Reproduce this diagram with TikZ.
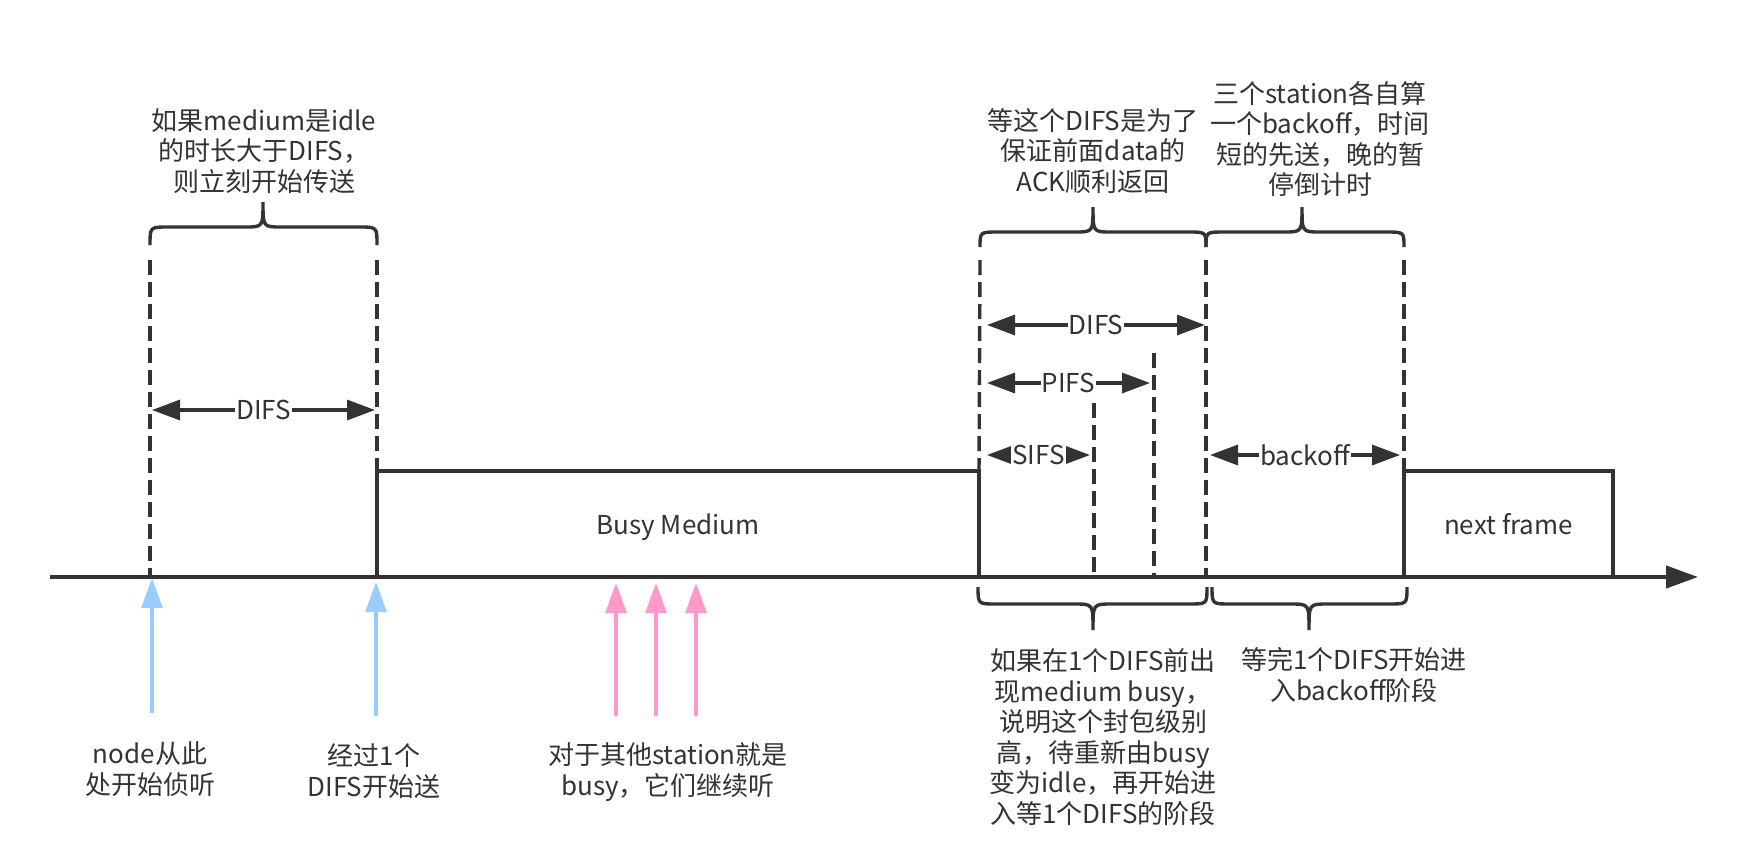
\documentclass[tikz,border=0pt]{standalone}
\usepackage{fontspec}
\setmainfont{Noto Sans CJK SC}
\usetikzlibrary{positioning,arrows.meta}
\definecolor{shen}{HTML}{333333}
\definecolor{lan}{HTML}{99CCFF}
\definecolor{fen}{HTML}{FF99CC}
%% 大括号: 左x, 右x, 尖x, 端y, 横y, 尖y
\newcommand{\kuohao}[6]{%
	\draw[kh] (#1,#4) .. controls (#1,#5) .. (#1+18,#5) -- (#3-18,#5)
	.. controls (#3,#5) .. (#3,#6) .. controls (#3,#5) .. (#3+18,#5)
	-- (#2-18,#5) .. controls (#2,#5) .. (#2,#4);}

\begin{document}
\begin{tikzpicture}[x=0.5pt,y=-0.5pt,
	zhou/.style={draw=shen,line width=2.1pt,-{Triangle[length=16pt,width=11pt]}},
	zhen/.style={draw=shen,line width=1.7pt,outer sep=0pt,text=shen,text depth=0pt,font=\fontsize{13}{15.25}\selectfont},
	xuxian/.style={draw=shen,line width=1.7pt,dash pattern=on 7.5pt off 3.5pt},
	celiang/.style={draw=shen,line width=1.6pt,{Triangle[length=14pt,width=10pt]}-{Triangle[length=14pt,width=10pt]}},
	biaoqian/.style={fill=white,inner sep=0.5pt,text=shen,font=\fontsize{13}{15.25}\selectfont},
	kh/.style={draw=shen,line width=1.7pt},
	lanjian/.style={draw=lan,line width=1.6pt,-{Triangle[length=15pt,width=10.5pt]}},
	fenjian/.style={draw=fen,line width=1.6pt,-{Triangle[length=15pt,width=10.5pt]}},
	shuoming/.style={align=center,text=shen,font=\fontsize{13}{15.25}\selectfont},
	]
	\useasboundingbox (0,0) rectangle (1748,862);
	%% 时间轴
	\coordinate (o) at (50,577);
	\coordinate (e) at (1698,577);
	\coordinate (t1) at (150,577);
	\coordinate (t4) at (1094,577);
	\coordinate (t5) at (1154,577);
	\coordinate (t6) at (1206,577);
	%% 帧
	\node[zhen,minimum width=301pt,minimum height=53pt] (busy) at (678,524) {Busy Medium};
	\node[zhen,minimum width=104.5pt,minimum height=53pt] (next) at (1508.5,524) {next frame};
	\draw[zhou] (o) -- (e);
	%% 虚线
	\coordinate (x1) at (150,260);
	\coordinate (x2) at (377,260);
	\coordinate (x3) at (980,260);
	\coordinate (x4) at (1094,403);
	\coordinate (x5) at (1154,353);
	\coordinate (x6) at (1206,260);
	\coordinate (x7) at (1404,260);
	\draw[xuxian] (x1) -- (t1);
	\draw[xuxian] (x2) -- (busy.north west);
	\draw[xuxian] (x3) -- (busy.north east);
	\draw[xuxian] (x4) -- (t4);
	\draw[xuxian] (x5) -- (t5);
	\draw[xuxian] (x6) -- (t6);
	\draw[xuxian] (x7) -- (next.north west);
	%% 间隔
	\coordinate (a1) at (152,410);
	\coordinate (a2) at (375,410);
	\coordinate (b1) at (987,325);
	\coordinate (b2) at (1205,325);
	\coordinate (c1) at (987,383);
	\coordinate (c2) at (1150,383);
	\coordinate (s1) at (987,455);
	\coordinate (s2) at (1090,455);
	\coordinate (k1) at (1210,455);
	\coordinate (k2) at (1400,455);
	\draw[celiang] (a1) -- node[biaoqian] {DIFS} (a2);
	\draw[celiang] (b1) -- node[biaoqian] {DIFS} (b2);
	\draw[celiang] (c1) -- node[biaoqian] {PIFS} (c2);
	\draw[celiang] (s1) -- node[biaoqian] {SIFS} (s2);
	\draw[celiang] (k1) -- node[biaoqian] {backoff} (k2);
	%% 括号
	\kuohao{150}{377}{263}{245}{227}{202}
	\kuohao{980}{1206}{1093}{247}{232}{207}
	\kuohao{1206}{1404}{1302}{247}{232}{207}
	\kuohao{978}{1207}{1093}{587}{604}{630}
	\kuohao{1212}{1407}{1309}{587}{604}{630}
	%% 说明文字
	\node[shuoming] (m1) at (264,151) {如果medium是idle\\的时长大于DIFS，\\则立刻开始传送};
	\node[shuoming] (m2) at (1093,151) {等这个DIFS是为了\\保证前面data的\\ACK顺利返回};
	\node[shuoming] (m3) at (1320,139) {三个station各自算\\一个backoff，时间\\短的先送，晚的暂\\停倒计时};
	\node[shuoming] (m4) at (1103,737) {如果在1个DIFS前出\\现medium busy，\\说明这个封包级别\\高，待重新由busy\\变为idle，再开始进\\入等1个DIFS的阶段};
	\node[shuoming] (m5) at (1354,675) {等完1个DIFS开始进\\入backoff阶段};
	\node[shuoming] (m6) at (150,769) {node从此\\处开始侦听};
	\node[shuoming] (m7) at (374,771) {经过1个\\DIFS开始送};
	\node[shuoming] (m8) at (668,772) {对于其他station就是\\busy，它们继续听};
	%% 箭头
	\coordinate (l1) at (152,713);
	\coordinate (l1t) at (152,578);
	\coordinate (l2) at (376,716);
	\coordinate (l2t) at (376,582);
	\coordinate (p1) at (616,716);
	\coordinate (p1t) at (616,583);
	\coordinate (p2) at (656,716);
	\coordinate (p2t) at (656,583);
	\coordinate (p3) at (696,716);
	\coordinate (p3t) at (696,583);
	\draw[lanjian] (l1) -- (l1t);
	\draw[lanjian] (l2) -- (l2t);
	\draw[fenjian] (p1) -- (p1t);
	\draw[fenjian] (p2) -- (p2t);
	\draw[fenjian] (p3) -- (p3t);
\end{tikzpicture}
\end{document}
